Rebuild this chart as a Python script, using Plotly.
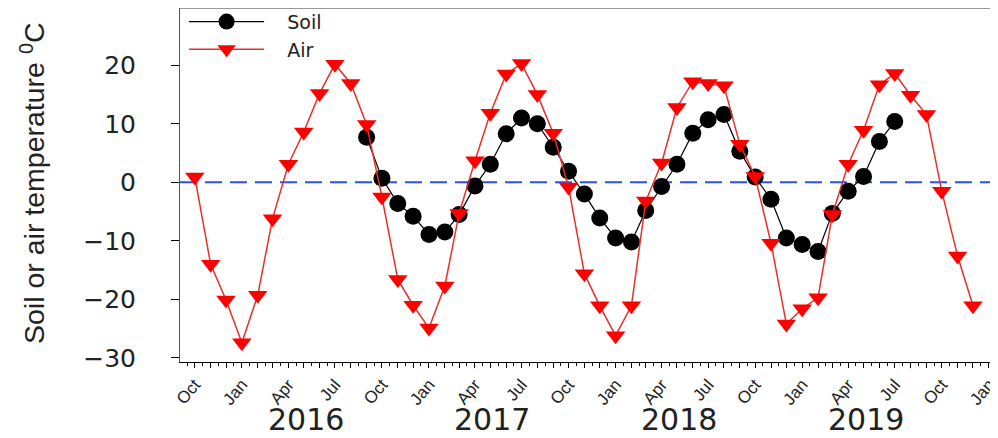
import pandas as pd
import plotly.graph_objects as go

# Monthly observation dates (Oct 2015 - Dec 2019)
months = [d.strftime("%Y-%m-%d") for d in pd.date_range("2015-10-01", "2019-12-01", freq="MS")]

# Air temperature (deg C), one value per month starting Oct 2015
air_temp = [0.9, -14.0, -20.1, -27.4, -19.3, -6.2, 3.1, 8.6, 15.2, 20.2, 16.9, 9.9,
            -2.5, -16.6, -21.0, -24.9, -17.7, -5.3, 3.7, 11.8, 18.5, 20.3, 15.0, 8.4,
            -0.8, -15.6, -21.1, -26.2, -21.1, -3.2, 3.3, 12.8, 17.2, 16.9, 16.5, 6.5,
            1.0, -10.4, -24.2, -21.6, -19.7, -5.5, 3.1, 8.9, 16.7, 18.6, 14.9, 11.6,
            -1.5, -12.6, -21.1]

# Soil temperature (deg C), monthly from Sep 2016 to Jul 2019
soil_months = months[11:46]
soil_temp = [7.7, 0.7, -3.6, -5.8, -8.9, -8.5, -5.5, -0.6, 3.1, 8.3, 11.0, 10.0,
             6.0, 1.9, -2.0, -6.1, -9.5, -10.2, -4.8, -0.7, 3.1, 8.4, 10.7, 11.6,
             5.3, 0.9, -2.9, -9.5, -10.6, -11.8, -5.3, -1.5, 1.0, 7.0, 10.4]

# X tick labels: every month has a tick, quarter months are labelled
tick_dates = months + ["2020-01-01"]
tick_labels = [pd.Timestamp(d).strftime("%b") if pd.Timestamp(d).month in (1, 4, 7, 10) else ""
               for d in tick_dates]

# Year labels under the axis
years = ["2016", "2017", "2018", "2019"]
year_label_x = ["2016-05-05", "2017-05-05", "2018-05-05", "2019-05-05"]

y_ticks = [-30, -20, -10, 0, 10, 20]

fig = go.Figure()
fig.add_trace(go.Scatter(
    x=soil_months, y=soil_temp, name="\u00a0\u00a0\u00a0Soil", mode="lines+markers",
    line=dict(color="black", width=1.2),
    marker=dict(symbol="circle", size=17, color="black"),
))
fig.add_trace(go.Scatter(
    x=months, y=air_temp, name="\u00a0\u00a0\u00a0Air", mode="lines+markers",
    line=dict(color="#e8302a", width=1.5),
    marker=dict(symbol="triangle-down", size=17, color="#ff0000"),
))

fig.add_shape(type="line", xref="paper", x0=0, x1=1, yref="y", y0=0, y1=0,
              line=dict(color="#2a52f0", width=2, dash="17px,8px"), layer="below")
fig.add_shape(type="line", xref="paper", x0=0, x1=1, yref="paper", y0=1, y1=1,
              line=dict(color="#999999", width=2))

for yr, xp in zip(years, year_label_x):
    fig.add_annotation(x=xp, y=-0.1638, xref="x", yref="paper", text=yr, showarrow=False,
                       xanchor="center", yanchor="middle",
                       font=dict(family="DejaVu Sans", size=30, color="#222222"))

fig.add_annotation(x=-0.18, y=0.505, xref="paper", yref="paper",
                   text="Soil or air temperature <sup>0</sup>C", textangle=-90,
                   showarrow=False, xanchor="center", yanchor="middle",
                   font=dict(family="Liberation Sans, Arial", size=28.5, color="#222222"))

fig.update_layout(
    width=998, height=438,
    margin=dict(l=172, r=8, t=0, b=84, autoexpand=False),
    paper_bgcolor="white", plot_bgcolor="white",
    showlegend=True,
    legend=dict(x=0.005, y=1.015, xanchor="left", yanchor="top",
                bgcolor="rgba(0,0,0,0)", font=dict(family="DejaVu Sans", size=19, color="#222222"),
                itemwidth=75, tracegroupgap=0),
    xaxis=dict(
        type="date", range=["2015-09-02", "2020-01-19"], automargin=False,
        showline=True, linecolor="black", linewidth=1,
        ticks="outside", ticklen=5, tickcolor="black",
        tickmode="array", tickvals=tick_dates, ticktext=tick_labels,
        tickangle=-50, tickfont=dict(family="Liberation Sans, Arial", size=17, color="#222222"),
        showgrid=False, zeroline=False,
        minor=dict(ticks="outside", ticklen=3, dtick="M1", tick0="2015-09-16",
                   tickcolor="black", showgrid=False),
    ),
    yaxis=dict(
        range=[-30.7, 29.8], automargin=False,
        showline=True, linecolor="#555555", linewidth=1,
        ticks="outside", ticklen=8, tickcolor="black",
        tickmode="array", tickvals=y_ticks,
        tickfont=dict(family="DejaVu Sans", size=25, color="#222222"),
        ticklabelstandoff=30,
        showgrid=False, zeroline=False,
    ),
)

fig.write_html("out.html")
